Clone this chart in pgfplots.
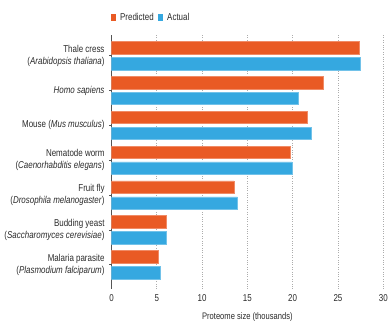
\documentclass[border=0pt]{standalone}
\usepackage{fontspec}
\setmainfont{Liberation Sans}[FakeStretch=0.8]
\usepackage{pgfplots}
\pgfplotsset{compat=1.18}
\definecolor{pred}{HTML}{E95A24}
\definecolor{act}{HTML}{35A8E0}
\definecolor{txt}{HTML}{2A2A2A}
\definecolor{axl}{HTML}{555555}
\begin{document}
\begin{tikzpicture}
\begin{axis}[
  name=ax,
  scale only axis,
  width=273pt, height=255pt,
  xbar,
  bar width=12.5pt,
  xmin=0, xmax=30,
  ymin=-0.69, ymax=6.6,
  xtick={0,5,10,15,20,25,30},
  ytick={0,1,2,3,4,5,6},
  yticklabels={
    {Malaria parasite\\(\textit{Plasmodium falciparum})},
    {Budding yeast\\(\textit{Saccharomyces cerevisiae})},
    {Fruit fly\\(\textit{Drosophila melanogaster})},
    {Nematode worm\\(\textit{Caenorhabditis elegans})},
    {Mouse (\textit{Mus musculus})},
    {\textit{Homo sapiens}},
    {Thale cress\\(\textit{Arabidopsis thaliana})}},
  yticklabel style={align=right, font=\fontsize{10}{12.5}\selectfont, text=txt, xshift=-1pt},
  xticklabel style={font=\fontsize{10}{10}\selectfont, text=txt},
  /pgf/number format/assume math mode=true,
  xlabel={Proteome size (thousands)},
  xlabel style={font=\fontsize{9.5}{10}\selectfont, text=txt, yshift=1pt},
  axis line style={draw=none},
  xmajorgrids,
  major grid style={dotted, draw=gray!65, line width=0.6pt},
  xtick style={draw=none},
  ytick pos=left,
  tick align=outside,
  major tick length=2.5pt,
  ytick style={draw=axl, line width=0.6pt},
  extra x ticks={0},
  extra x tick labels={},
  extra x tick style={grid=major, major grid style={solid, draw=axl, line width=1.1pt}},
  legend style={at={(0,1)}, anchor=south west, yshift=9pt, xshift=-4pt, draw=none, fill=none,
    font=\fontsize{10}{10}\selectfont, text=txt, column sep=2pt},
  legend columns=2,
  legend cell align=left,
  legend image code/.code={\fill[#1,draw=none] (0pt,-3.7pt) rectangle (5.5pt,3.7pt);},
]
\addplot[fill=pred, draw=pred!70!white, line width=0.5pt, bar shift=8pt] coordinates {
  (27.4,6) (23.4,5) (21.6,4) (19.7,3) (13.5,2) (6.0,1) (5.2,0)};
\addlegendentry{Predicted}
\addplot[fill=act, draw=act!70!white, line width=0.5pt, bar shift=-8pt] coordinates {
  (27.5,6) (20.6,5) (22.1,4) (19.9,3) (13.9,2) (6.0,1) (5.4,0)};
\addlegendentry{Actual}
\end{axis}
\path ([xshift=-112pt,yshift=-30pt]ax.south west) rectangle ([xshift=6pt,yshift=35pt]ax.north east);
\end{tikzpicture}
\end{document}
